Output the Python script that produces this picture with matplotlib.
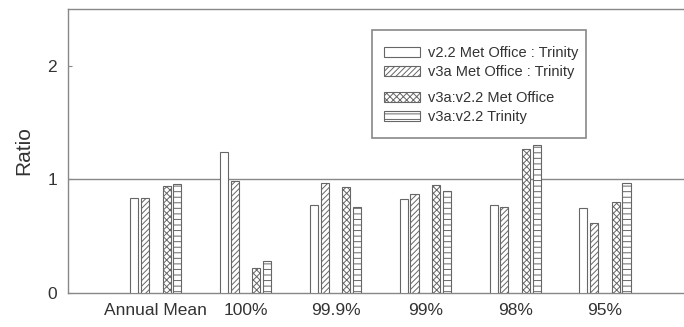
import matplotlib
matplotlib.use('Agg')
import matplotlib.pyplot as plt
import matplotlib.patches as patches
import numpy as np

plt.rcParams['font.family'] = ['Liberation Sans', 'DejaVu Sans']
plt.rcParams['hatch.linewidth'] = 0.7
plt.rcParams['text.color'] = '#333333'

categories = ['Annual Mean', '100%', '99.9%', '99%', '98%', '95%']
v22_mo_tr = [0.84, 1.245, 0.775, 0.825, 0.775, 0.752]
v3a_mo_tr = [0.84, 0.99, 0.97, 0.87, 0.755, 0.614]
v3a_v22_mo = [0.943, 0.217, 0.937, 0.95, 1.269, 0.799]
v3a_v22_tr = [0.96, 0.285, 0.755, 0.899, 1.304, 0.972]

series = [
    (v22_mo_tr, '', 'v2.2 Met Office : Trinity', -0.24),
    (v3a_mo_tr, '//////', 'v3a Met Office : Trinity', -0.12),
    (v3a_v22_mo, 'xxxxx', 'v3a:v2.2 Met Office', 0.12),
    (v3a_v22_tr, '---', 'v3a:v2.2 Trinity', 0.24),
]

edge = '#666666'
axcol = '#888888'

fig = plt.figure(figsize=(6.84, 3.27), dpi=100)
ax = fig.add_axes([68 / 684, 34 / 327, 616 / 684, 284 / 327])

x = np.arange(len(categories))
handles = []
for vals, hatch, label, off in series:
    b = ax.bar(x + off, vals, width=0.09, facecolor='white', edgecolor=edge,
               hatch=hatch, linewidth=0.8, label=label, zorder=3)
    handles.append(b)

ax.axhline(1.0, color=axcol, lw=1.0, zorder=2)

ax.set_xlim(-0.978, 5.88)
ax.set_ylim(0, 2.5)
ax.set_xticks(x)
ax.set_xticklabels(categories, fontsize=12.5, color='#333333')
ax.tick_params(axis='x', length=0, pad=7)
ax.set_yticks([0, 1, 2])
ax.tick_params(axis='y', direction='in', length=3, color=axcol, labelsize=12.5,
               labelcolor='#333333', pad=8)
ax.set_ylabel('Ratio', fontsize=15, labelpad=10, color='#333333')

for s in ['left', 'bottom', 'top']:
    ax.spines[s].set_color(axcol)
    ax.spines[s].set_linewidth(1.0)
ax.spines['right'].set_visible(False)

# boxed key, split into two pairs
ax.add_patch(patches.Rectangle((0.4935, 0.546), 0.3475, 0.38, transform=ax.transAxes,
                               facecolor='white', edgecolor=axcol, lw=1.2, zorder=4))
lkw = dict(frameon=False, fontsize=10.5, handlelength=2.5, handleheight=0.7,
           handletextpad=0.5, labelspacing=0.35, borderpad=0, borderaxespad=0,
           loc='upper left')
leg1 = ax.legend(handles=handles[:2], bbox_to_anchor=(0.513, 0.87), **lkw)
leg1.set_zorder(5)
ax.add_artist(leg1)
leg2 = ax.legend(handles=handles[2:], bbox_to_anchor=(0.513, 0.711), **lkw)
leg2.set_zorder(5)

fig.savefig('out.png', dpi=100)
